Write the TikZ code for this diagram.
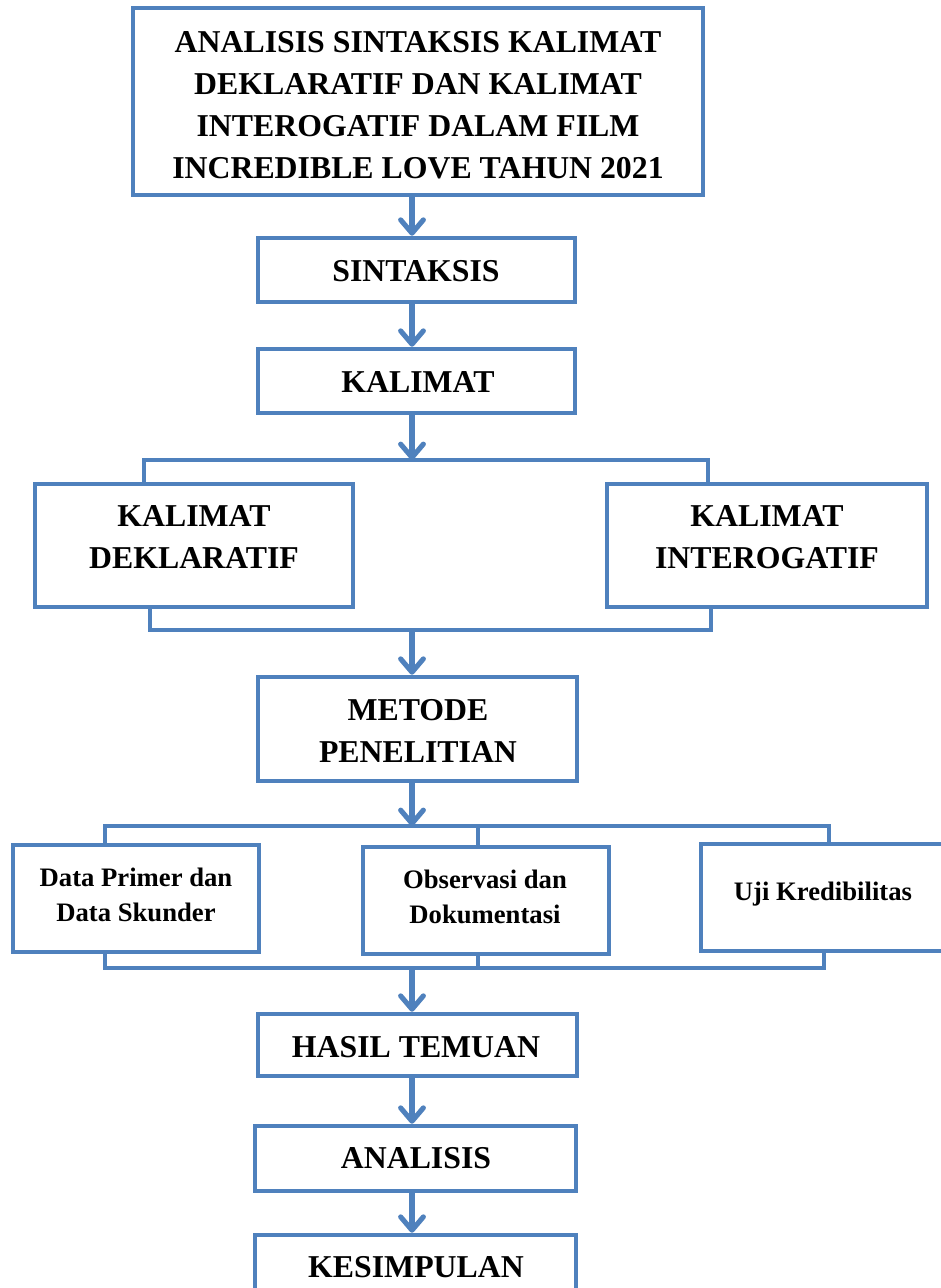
\documentclass[tikz,border=0pt]{standalone}
\usepackage{fontspec}
\setmainfont{Liberation Serif}
\usetikzlibrary{arrows.meta}
\definecolor{boxblue}{HTML}{4F81BD}
\begin{document}
\begin{tikzpicture}[x=0.75pt,y=-0.75pt,
  box/.style 2 args={draw=boxblue,line width=3.4pt,rectangle,fill=white,
    minimum width=#1*0.75pt,minimum height=#2*0.75pt,inner sep=0pt},
  bigtxt/.style={font=\bfseries\fontsize{23.85pt}{31.5pt}\selectfont,align=center,inner sep=0pt},
  smalltxt/.style={font=\bfseries\fontsize{20pt}{26.25pt}\selectfont,align=center,inner sep=0pt},
  arr/.style={draw=boxblue,line width=3.8pt,-{Straight Barb[length=10pt,width=17pt,round]}},
  conn/.style={draw=boxblue,line width=3.4pt,line join=miter}]
\useasboundingbox (0,0) rectangle (941,1288);
\fill[white] (0,0) rectangle (941,1288);
% boxes
\node[box={570}{187}] (top) at (418,101.5) {};
\node[box={317}{64}] (sin) at (416.5,270) {};
\node[box={317}{64}] (kal) at (416.5,381) {};
\node[box={318}{123}] (dek) at (194,545.5) {};
\node[box={320}{123}] (int) at (767,545.5) {};
\node[box={319}{104}] (met) at (417.5,729) {};
\node[box={246}{107}] (dp) at (136,898.5) {};
\node[box={246}{107}] (obs) at (486,900.5) {};
\node[box={245}{107}] (uji) at (823.5,897.5) {};
\node[box={319}{62}] (has) at (417.5,1045) {};
\node[box={321}{65}] (ana) at (415.5,1158.5) {};
\node[box={321}{64}] (kes) at (415.5,1267) {};
% texts
\node[bigtxt] (ttop) at (418,105) {ANALISIS SINTAKSIS KALIMAT\\DEKLARATIF DAN KALIMAT\\INTEROGATIF DALAM FILM\\INCREDIBLE LOVE TAHUN 2021};
\node[bigtxt] (tsin) at (416,271) {SINTAKSIS};
\node[bigtxt] (tkal) at (418,382) {KALIMAT};
\node[bigtxt] (tdek) at (194,537) {KALIMAT\\DEKLARATIF};
\node[bigtxt] (tint) at (767,537) {KALIMAT\\INTEROGATIF};
\node[bigtxt] (tmet) at (418,731) {METODE\\PENELITIAN};
\node[smalltxt] (tdp) at (136,894.5) {Data Primer dan\\Data Skunder};
\node[smalltxt] (tobs) at (485,896.5) {Observasi dan\\Dokumentasi};
\node[smalltxt] (tuji) at (823,894) {Uji Kredibilitas};
\node[bigtxt] (thas) at (416,1047) {HASIL TEMUAN};
\node[bigtxt] (tana) at (416,1158) {ANALISIS};
\node[bigtxt] (tkes) at (416,1267) {KESIMPULAN};
% junction coordinates
\coordinate (ax) at (412,0);
\coordinate (j1L) at (144,460);
\coordinate (j1R) at (708,460);
\coordinate (k1L) at (150,630);
\coordinate (k1R) at (711,630);
\coordinate (j2L) at (105,826);
\coordinate (j2M) at (478,826);
\coordinate (j2R) at (829,826);
\coordinate (k2L) at (105,968);
\coordinate (k2M) at (478,968);
\coordinate (k2R) at (824,968);
% brackets
\draw[conn] (dek.north -| j1L) |- (j1R) -- (int.north -| j1R);
\draw[conn] (dek.south -| k1L) |- (k1R) -- (int.south -| k1R);
\draw[conn] (dp.north -| j2L) |- (j2R) -- (uji.north -| j2R);
\draw[conn] (obs.north -| j2M) -- (j2M);
\draw[conn] (dp.south -| k2L) |- (k2R) -- (uji.south -| k2R);
\draw[conn] (obs.south -| k2M) -- (k2M);
% arrows
\draw[arr] (top.south -| ax) -- (sin.north -| ax);
\draw[arr] (sin.south -| ax) -- (kal.north -| ax);
\draw[arr] (kal.south -| ax) -- (ax |- j1L);
\draw[arr] (ax |- k1L) -- (met.north -| ax);
\draw[arr] (met.south -| ax) -- (ax |- j2L);
\draw[arr] (ax |- k2L) -- (has.north -| ax);
\draw[arr] (has.south -| ax) -- (ana.north -| ax);
\draw[arr] (ana.south -| ax) -- (kes.north -| ax);
\end{tikzpicture}
\end{document}
